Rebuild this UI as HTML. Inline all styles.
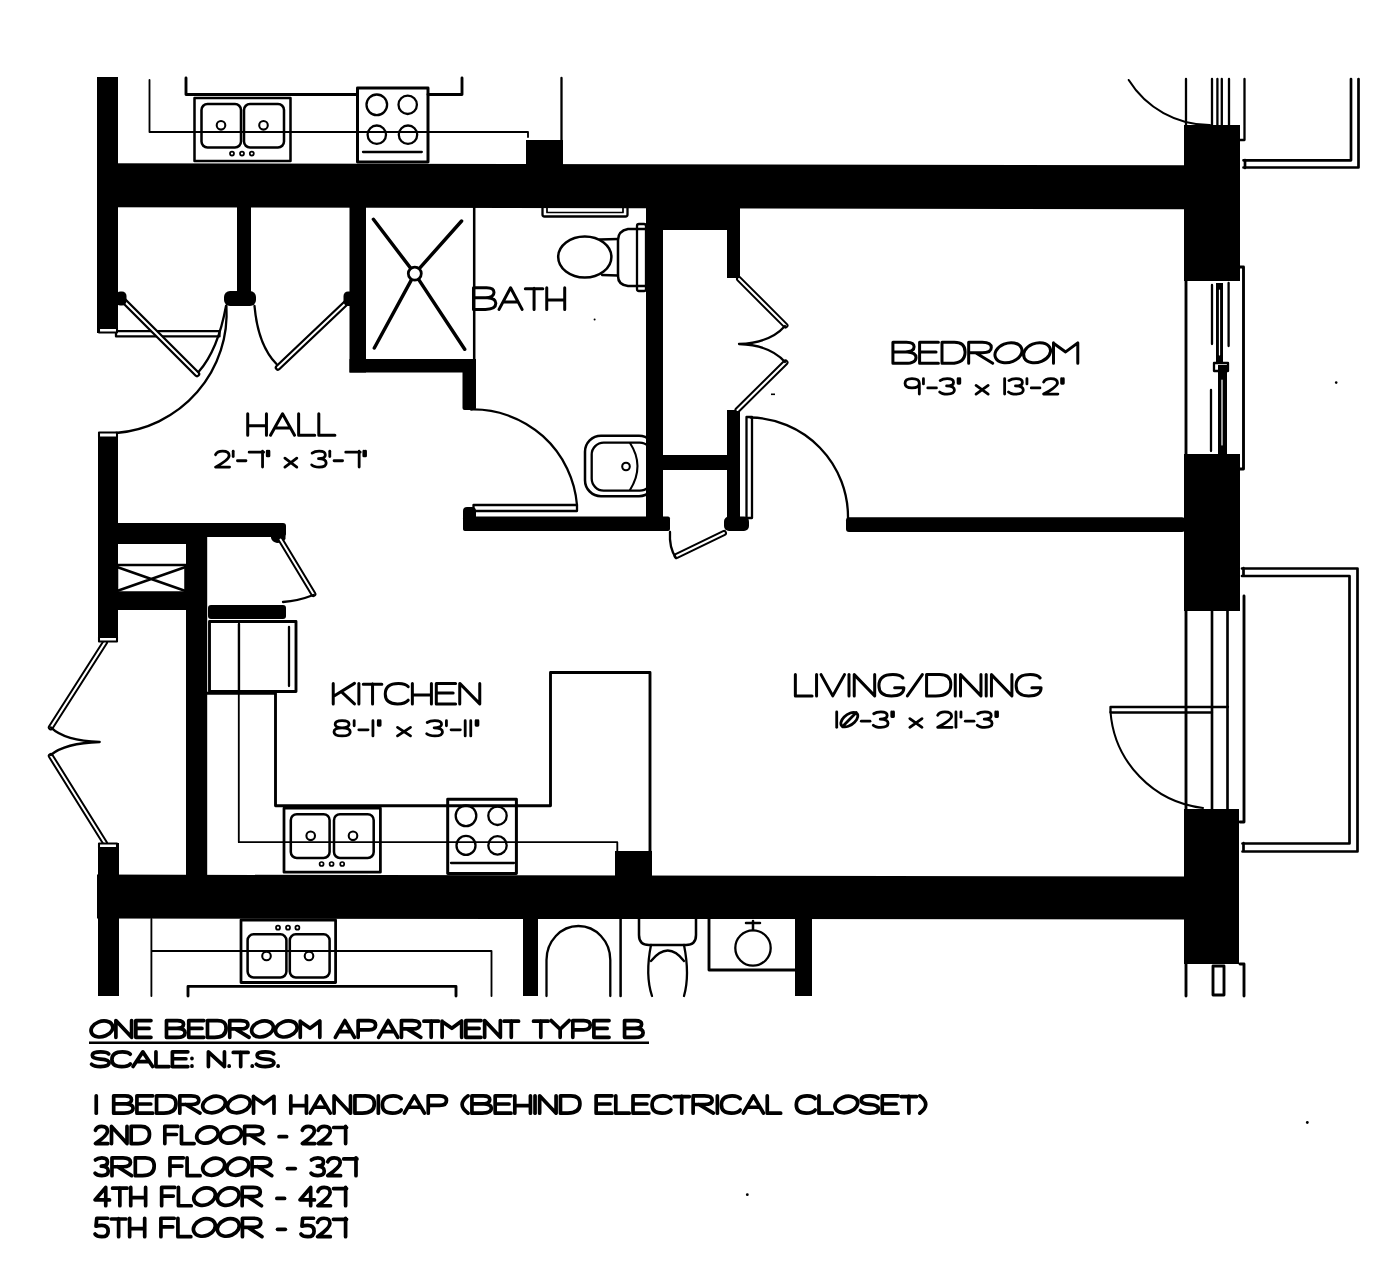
<!DOCTYPE html>
<html><head><meta charset="utf-8">
<style>
html,body{margin:0;padding:0;background:#fff;}
body{width:1386px;height:1272px;overflow:hidden;}
svg{display:block;}
text{font-family:"Liberation Sans",sans-serif;fill:#000;}
</style></head>
<body>
<svg width="1386" height="1272" viewBox="0 0 1386 1272">
<rect x="0" y="0" width="1386" height="1272" fill="#fff"/>
<!-- WALLS -->
<g fill="#000" stroke="none">
  <rect x="97" y="77" width="21" height="256"/>
  <polygon points="97,163.2 1185,165.2 1185,209.2 97,207.2"/>
  <rect x="237" y="205" width="14" height="90"/>
  <rect x="224" y="291" width="32" height="15" rx="6"/>
  <rect x="349.5" y="205" width="16.5" height="167.5"/>
  <rect x="349.5" y="359" width="126.5" height="13.5"/>
  <rect x="462.5" y="359" width="13.5" height="51" rx="2"/>
  <rect x="646" y="205" width="17" height="313"/>
  <rect x="463" y="516.5" width="207" height="14.5" rx="2"/>
  <rect x="463" y="507" width="13" height="24" rx="4"/>
  <rect x="646" y="205" width="94" height="25"/>
  <rect x="727" y="205" width="13" height="73"/>
  <rect x="663" y="455" width="64" height="15"/>
  <rect x="727" y="410" width="13" height="120"/>
  <rect x="724" y="516.5" width="25" height="14.5" rx="5"/>
  <rect x="846" y="517.2" width="339" height="14.8" rx="3"/>
  <rect x="1184" y="125" width="56" height="156"/>
  <rect x="1184" y="454" width="56" height="157"/>
  <rect x="1184" y="809" width="55" height="155"/>
  <polygon points="97,874.6 1185,876.5 1185,919.4 97,918.6"/>
  <rect x="98" y="432" width="20" height="209"/>
  <rect x="118" y="523" width="168" height="14" rx="3"/>
  <rect x="118" y="523" width="68" height="21"/>
  <rect x="116" y="592" width="70" height="18"/>
  <rect x="186" y="523" width="21.2" height="352"/>
  <rect x="208" y="605" width="78" height="14" rx="3"/>
  <path d="M271,536 H285.5 V539 Q283,543 277,543 Q272,542 271,538 Z"/>
  <rect x="98" y="843" width="21" height="153"/>
  <rect x="523" y="915" width="15" height="81"/>
  <rect x="795" y="915" width="17" height="81"/>
  <rect x="615" y="851" width="37" height="26"/>
  <rect x="526" y="140" width="37" height="25"/>
</g>

<!-- FIXTURES -->
<g fill="none" stroke="#000" stroke-width="2" stroke-linecap="round" stroke-linejoin="round">
  <!-- upper neighbor kitchen -->
  <path d="M186,78 V94.5 H357.5 M428,94.5 H462 V78" stroke-width="2.88"/>
  <path d="M149.5,80 V132 H528 V137" stroke-width="1.84"/>
  <path d="M561.5,78 V141" stroke-width="2.3"/>
  <rect x="194.5" y="98" width="96" height="63" stroke-width="2.53"/>
  <rect x="201.5" y="104" width="39.5" height="43.5" rx="6" stroke-width="2.53"/>
  <rect x="244" y="104" width="40" height="43.5" rx="6" stroke-width="2.53"/>
  <circle cx="221" cy="125.3" r="4.3" stroke-width="2.07"/>
  <circle cx="263.5" cy="125.3" r="4.3" stroke-width="2.07"/>
  <circle cx="232" cy="153.6" r="2" stroke-width="1.72"/>
  <circle cx="242" cy="153.6" r="2" stroke-width="1.72"/>
  <circle cx="251.8" cy="153.6" r="2" stroke-width="1.72"/>
  <rect x="357.5" y="88" width="70.5" height="74" stroke-width="2.99"/>
  <circle cx="376.8" cy="104.8" r="10.3" stroke-width="2.3"/>
  <circle cx="407.7" cy="104.8" r="9.2" stroke-width="2.3"/>
  <circle cx="376.8" cy="134.7" r="9.2" stroke-width="2.3"/>
  <circle cx="408" cy="134.7" r="9.2" stroke-width="2.3"/>
  <path d="M363,152 H421.8" stroke-width="2.3"/>

  <!-- top right neighbor door + window lines -->
  <path d="M1128.7,80 A95.4,95.4 0 0 0 1210,125" stroke-width="2.07"/>
  <path d="M1186,79 V125 M1212,79 V125 M1217.4,79 V125 M1221.8,79 V125 M1229,79 V125 M1244.5,79 V140 H1240" stroke-width="2.3"/>
  <path d="M1243.5,160.3 H1351 V79 M1243.5,167.5 H1358.5 V79 M1245,160 V168" stroke-width="2.7"/>

  <!-- right windows -->
  <path d="M1186,281 V454 M1243.5,267 V469 M1240,267 H1243.5 M1240,469 H1243.5" stroke-width="2.88"/>
  <path d="M1212,285 V344 M1228.6,283 V346 M1211,390 V451" stroke-width="2.3"/>
  <rect x="1216" y="283" width="7" height="80" fill="#000" stroke="none"/>
  <rect x="1218" y="365" width="9" height="89" fill="#000" stroke="none"/>
  <path d="M1219.5,290 V355 M1222,380 V445" stroke="#fff" stroke-width="1.2"/>
  <path d="M1214,363 H1228 V371 H1214 Z" stroke-width="2.3"/>

  <!-- balcony rail 2 -->
  <path d="M1242,568.5 H1357.5 V851.5 H1242.5 M1242,576 H1349.5 V843.5 H1242.5 M1243.5,568 V576 M1243.5,843 V851.5" stroke-width="2.7"/>
  <path d="M1186,611 V809 M1244,596 V822 M1240,822 H1244" stroke-width="2.88"/>
  <path d="M1212,611 V809 M1227.5,611 V809" stroke-width="2.64"/>
  <path d="M1110.5,707 H1228 M1110.5,712.5 H1212 M1110.5,707 V712.5" stroke-width="2.3"/>
  <path d="M1110.5,712 A105,105 0 0 0 1203,808" stroke-width="2.07"/>
  <path d="M1186,964 V996 M1244,964 V996 M1240,964 H1244" stroke-width="2.88"/>
  <rect x="1213" y="966" width="11" height="29" stroke-width="2.88"/>

  <!-- shower -->
  <path d="M474.2,207 V359" stroke-width="2.53"/>
  <path d="M373.4,219.3 L414.8,273.6 L464.7,349.3 M461.6,221 L414.8,273.6 L374.3,348" stroke-width="3.45"/>
  <circle cx="414.8" cy="273.6" r="6.5" fill="#fff" stroke-width="2.76"/>

  <!-- hall entry door -->
  <rect x="116" y="331.2" width="103.5" height="5.2" fill="#fff" stroke-width="2.3"/>
  <path d="M116,433 A120,120 0 0 0 226.4,306" stroke-width="2.3"/>
  <rect x="99" y="328" width="18" height="4.5" fill="#fff" stroke-width="2.07"/>
  <rect x="99" y="432.5" width="18" height="5" fill="#fff" stroke-width="2.07"/>
  <!-- closet doors -->
  <path d="M122,299 L197,374" stroke-width="6.5"/>
  <path d="M122,299 L197,374" stroke="#fff" stroke-width="2"/>
  <rect x="116" y="291.5" width="10.5" height="14" rx="4.5" fill="#000" stroke="none"/>
  <path d="M198.5,372 Q218,350 226,306" stroke-width="2.3"/>
  <path d="M346,303 L278,367.5" stroke-width="6.5"/>
  <path d="M346,303 L278,367.5" stroke="#fff" stroke-width="2"/>
  <rect x="343.5" y="291.5" width="10.5" height="14.5" rx="4.5" fill="#000" stroke="none"/>
  <path d="M276.5,364 Q258,345 254.5,306" stroke-width="2.3"/>

  <!-- bath fixtures -->
  <rect x="542.5" y="206" width="85" height="10.5" rx="2" stroke-width="2.3"/>
  <path d="M547,206 V212.5 H623 V206" stroke-width="1.72"/>
  <path d="M646,229 H628 Q618,231 618,240 V276 Q618,285 628,286 H646" stroke-width="2.53"/>
  <rect x="637" y="224" width="9" height="67" rx="2" stroke-width="2.3"/>
  <path d="M618,239 L600,239.5 M618,275.5 L602,275" stroke-width="2.3"/>
  <ellipse cx="584.8" cy="256.9" rx="26.6" ry="20.5" stroke-width="2.53"/>
  <rect x="585" y="435.7" width="70" height="60.5" rx="16" stroke-width="2.53"/>
  <rect x="591.7" y="442.6" width="60" height="48" rx="12" stroke-width="2.3"/>
  <rect x="646" y="430" width="10" height="70" fill="#000" stroke="none"/>
  <path d="M630,443 Q645,466 630,490" stroke-width="2.07"/>
  <circle cx="626" cy="466.5" r="3.8" stroke-width="2.07"/>
  <!-- bath door -->
  <rect x="473.5" y="505" width="103.5" height="6" stroke-width="2.3"/>
  <path d="M471,409.5 A104,104 0 0 1 577,505" stroke-width="2.3"/>

  <!-- bedroom closet bifold -->
  <path d="M739,279 L785.5,325.5 M785.5,362.5 L737.5,410" stroke-width="6"/>
  <path d="M739,279 L785.5,325.5 M785.5,362.5 L737.5,410" stroke="#fff" stroke-width="2"/>
  <path d="M785,326 Q770,343 739,344 Q770,345 785,362" stroke-width="2.3"/>
  <!-- bedroom door -->
  <rect x="746.5" y="417" width="5.5" height="101" stroke-width="2.3"/>
  <path d="M750.5,417.5 A99.5,99.5 0 0 1 848,518" stroke-width="2.3"/>
  <!-- closet bottom door -->
  <path d="M724,533 L676.5,556" stroke-width="6"/>
  <path d="M724,533 L676.5,556" stroke="#fff" stroke-width="2"/>
  <path d="M670,532 Q669,548 676,558" stroke-width="2.3"/>

  <!-- elec closet X -->
  <rect x="117" y="565" width="68.5" height="27.5" stroke-width="2.53"/>
  <path d="M117,567 L185.5,591 M185.5,567 L117,591" stroke-width="2.53"/>
  <!-- pantry door -->
  <path d="M280.5,539.5 L313.4,594" stroke-width="6"/>
  <path d="M280.5,539.5 L313.4,594" stroke="#fff" stroke-width="2"/>
  <path d="M313.4,595 Q298,601 283,602" stroke-width="2.3"/>
  <!-- fridge -->
  <rect x="209.5" y="621.5" width="86.5" height="70" stroke-width="2.88"/>
  <path d="M239,624 V691 M289,627 V686" stroke-width="2.3"/>
  <path d="M207,693.3 H275.5 V805.8 H550.5 V672.5 H650 V852.6" stroke-width="2.88"/>
  <path d="M238.8,624 V842.2 H617.3 V854" stroke-width="1.84"/>
  <!-- kitchen sink -->
  <rect x="284" y="808.2" width="96.4" height="64" stroke-width="2.76"/>
  <rect x="290.8" y="814.2" width="38.8" height="43.8" rx="6" stroke-width="2.53"/>
  <rect x="334" y="814.2" width="39.7" height="43.8" rx="6" stroke-width="2.53"/>
  <circle cx="310.7" cy="835.8" r="4.3" stroke-width="2.07"/>
  <circle cx="353" cy="835.8" r="4.3" stroke-width="2.07"/>
  <circle cx="321.6" cy="864" r="2" stroke-width="1.72"/>
  <circle cx="331.6" cy="864" r="2" stroke-width="1.72"/>
  <circle cx="342.2" cy="864" r="2" stroke-width="1.72"/>
  <!-- kitchen stove -->
  <rect x="447.7" y="799.3" width="68.7" height="74.3" stroke-width="2.99"/>
  <circle cx="466" cy="815.8" r="10.3" stroke-width="2.3"/>
  <circle cx="497.5" cy="815.8" r="9.2" stroke-width="2.3"/>
  <circle cx="466" cy="845.4" r="9.5" stroke-width="2.3"/>
  <circle cx="497.5" cy="845.4" r="9.2" stroke-width="2.3"/>
  <path d="M451,863 H514" stroke-width="2.3"/>
  <path d="M650,851 V875" stroke-width="2.3"/>

  <!-- entry bifold -->
  <path d="M105,642.4 L50.8,727.4 M50.8,756 L105,843" stroke-width="6"/>
  <path d="M105,642.4 L50.8,727.4 M50.8,756 L105,843" stroke="#fff" stroke-width="2"/>
  <path d="M50.8,727.4 Q65,741 99.7,742 Q65,743 50.8,755" stroke-width="2.3"/>
  <rect x="99" y="637" width="18" height="4.5" fill="#fff" stroke-width="2.07"/>
  <rect x="99" y="843.5" width="18" height="4.5" fill="#fff" stroke-width="2.07"/>

  <!-- lower neighbor -->
  <rect x="241" y="920" width="94.6" height="62.5" stroke-width="2.76"/>
  <rect x="247.6" y="934.3" width="38.8" height="43.2" rx="6" stroke-width="2.53"/>
  <rect x="289.8" y="934.3" width="39.8" height="43.2" rx="6" stroke-width="2.53"/>
  <circle cx="266.5" cy="956" r="4.3" stroke-width="2.07"/>
  <circle cx="309" cy="956" r="4.3" stroke-width="2.07"/>
  <circle cx="278" cy="927.7" r="2" stroke-width="1.72"/>
  <circle cx="288" cy="927.7" r="2" stroke-width="1.72"/>
  <circle cx="297.4" cy="927.7" r="2" stroke-width="1.72"/>
  <path d="M151.4,919 V996 M151.4,951 H491.5 V996" stroke-width="1.84"/>
  <path d="M188,996 V986.4 H456 V996" stroke-width="2.88"/>
  <path d="M546.5,996 V960 A31.9,34 0 0 1 610.3,960 V996" stroke-width="2.3"/>
  <path d="M620.6,919 V996" stroke-width="2.53"/>
  <path d="M639,919 V935 Q639,945 649,945 H686 Q696,945 696,935 V919" stroke-width="2.53"/>
  <path d="M651,945 Q645,975 652,996 M684,945 Q690,975 684,996 M651,961 Q668,940 684,961" stroke-width="2.3"/>
  <path d="M709,919 V970 H794.8" stroke-width="2.88"/>
  <circle cx="753" cy="948" r="17.7" stroke-width="2.3"/>
  <path d="M753,930 V921 M746,923 H760" stroke-width="2.53"/>
</g>

<g fill="#000">
  <circle cx="594.6" cy="319.5" r="1"/>
  <rect x="771" y="393.5" width="4" height="1.6"/>
  <circle cx="1307.3" cy="1122.5" r="1.4"/>
  <circle cx="747.3" cy="1194.7" r="1.4"/>
  <circle cx="1336.2" cy="382.6" r="1.3"/>
</g>
<!-- TEXT -->
<g fill="none" stroke="#000" stroke-linecap="round" stroke-linejoin="round" style="vector-effect:non-scaling-stroke">
<g role="img" aria-label="BATH" transform="matrix(2.3035,0,0,2.1600,472.80,287.80)" stroke-width="3.0"><title>BATH</title><path vector-effect="non-scaling-stroke" transform="translate(0.00,0)" d="M0.3,0 V10 M0.3,0 H6 Q9.2,0 9.2,2.2 Q9.2,4.6 5.5,4.6 H0.3 M5.5,4.6 H6.3 Q10,4.8 10,7.2 Q10,10 5.5,10 H0.3"/><path vector-effect="non-scaling-stroke" transform="translate(11.40,0)" d="M0,10 L5,0 L10,10 M2,6.6 H8"/><path vector-effect="non-scaling-stroke" transform="translate(22.80,0)" d="M0,0.4 H7.6 M3.8,0.2 V10"/><path vector-effect="non-scaling-stroke" transform="translate(31.80,0)" d="M0.3,0 V10 M8.1,0 V10 M0.3,5.6 H8.1"/></g>
<g role="img" aria-label="HALL" transform="matrix(2.4016,0,0,2.1500,247.00,413.80)" stroke-width="3.0"><title>HALL</title><path vector-effect="non-scaling-stroke" transform="translate(0.00,0)" d="M0.3,0 V10 M8.1,0 V10 M0.3,5.6 H8.1"/><path vector-effect="non-scaling-stroke" transform="translate(9.80,0)" d="M0,10 L5,0 L10,10 M2,6.6 H8"/><path vector-effect="non-scaling-stroke" transform="translate(21.20,0)" d="M0.3,0 V10 H7.0"/><path vector-effect="non-scaling-stroke" transform="translate(29.60,0)" d="M0.3,0 V10 H7.0"/></g>
<g role="img" aria-label="2'-7&quot; x 3'-7&quot;" transform="matrix(2.1278,0,0,1.5900,215.10,451.20)" stroke-width="2.8"><title>2'-7&quot; x 3'-7&quot;</title><path vector-effect="non-scaling-stroke" transform="translate(0.00,0)" d="M0.2,2.2 Q1,0 3.5,0 Q6.6,0 6.6,2.8 Q6.6,5.2 0.2,10 H6.8"/><path vector-effect="non-scaling-stroke" transform="translate(8.00,0)" d="M0.5,0 V3.4"/><path vector-effect="non-scaling-stroke" transform="translate(10.20,0)" d="M0.3,6.0 H4.3"/><path vector-effect="non-scaling-stroke" transform="translate(16.00,0)" d="M0,0.6 H6.8 M6.3,0 V10"/><path vector-effect="non-scaling-stroke" transform="translate(24.00,0)" d="M0.5,0 V3.0 M1.3,0 V3.0"/><path vector-effect="non-scaling-stroke" transform="translate(32.80,0)" d="M0,4.4 L5.6,10 M5.6,4.4 L0,10"/><path vector-effect="non-scaling-stroke" transform="translate(45.40,0)" d="M0.2,1.2 Q1.4,0 3.5,0 Q6.4,0 6.4,2.4 Q6.4,4.7 3.2,4.7 Q6.8,4.7 6.8,7.4 Q6.8,10 3.5,10 Q1,10 0,8.6"/><path vector-effect="non-scaling-stroke" transform="translate(53.40,0)" d="M0.5,0 V3.4"/><path vector-effect="non-scaling-stroke" transform="translate(55.60,0)" d="M0.3,6.0 H4.3"/><path vector-effect="non-scaling-stroke" transform="translate(61.40,0)" d="M0,0.6 H6.8 M6.3,0 V10"/><path vector-effect="non-scaling-stroke" transform="translate(69.40,0)" d="M0.5,0 V3.0 M1.3,0 V3.0"/></g>
<g role="img" aria-label="BEDROOM" transform="matrix(2.3824,0,0,2.1100,892.20,342.20)" stroke-width="3.0"><title>BEDROOM</title><path vector-effect="non-scaling-stroke" transform="translate(0.00,0)" d="M0.3,0 V10 M0.3,0 H6 Q9.2,0 9.2,2.2 Q9.2,4.6 5.5,4.6 H0.3 M5.5,4.6 H6.3 Q10,4.8 10,7.2 Q10,10 5.5,10 H0.3"/><path vector-effect="non-scaling-stroke" transform="translate(11.20,0)" d="M8.2,0 H0.3 V10 H8.2 M0.3,4.7 H7.2"/><path vector-effect="non-scaling-stroke" transform="translate(20.60,0)" d="M0.3,0 V10 H4 Q10,10 10,4.6 Q10,0 5.5,0 H0.3"/><path vector-effect="non-scaling-stroke" transform="translate(31.80,0)" d="M0.3,10 V0 H6 Q9.8,0 9.8,2.5 Q9.8,5 6,5 H0.3 M3.2,5 L10.4,10"/><path vector-effect="non-scaling-stroke" transform="translate(43.40,0)" d="M10.75,2.51 A5.9,4.5 -25 0 1 0.05,7.49 A5.9,4.5 -25 0 1 10.75,2.51Z"/><path vector-effect="non-scaling-stroke" transform="translate(55.40,0)" d="M10.75,2.51 A5.9,4.5 -25 0 1 0.05,7.49 A5.9,4.5 -25 0 1 10.75,2.51Z"/><path vector-effect="non-scaling-stroke" transform="translate(67.40,0)" d="M0.3,0.3 V10 M0.3,0.5 L5.4,4.6 L10.5,0.3 V10"/></g>
<g role="img" aria-label="9'-3&quot; x 13'-2&quot;" transform="matrix(2.1653,0,0,1.5400,904.60,378.70)" stroke-width="2.8"><title>9'-3&quot; x 13'-2&quot;</title><path vector-effect="non-scaling-stroke" transform="translate(0.00,0)" d="M6.8,3 Q6.8,6 3.4,6 Q0.2,6 0.2,3 Q0.2,0 3.4,0 Q6.8,0 6.8,3 V10"/><path vector-effect="non-scaling-stroke" transform="translate(8.20,0)" d="M0.5,0 V3.4"/><path vector-effect="non-scaling-stroke" transform="translate(10.40,0)" d="M0.3,6.0 H4.3"/><path vector-effect="non-scaling-stroke" transform="translate(16.20,0)" d="M0.2,1.2 Q1.4,0 3.5,0 Q6.4,0 6.4,2.4 Q6.4,4.7 3.2,4.7 Q6.8,4.7 6.8,7.4 Q6.8,10 3.5,10 Q1,10 0,8.6"/><path vector-effect="non-scaling-stroke" transform="translate(24.20,0)" d="M0.5,0 V3.0 M1.3,0 V3.0"/><path vector-effect="non-scaling-stroke" transform="translate(33.00,0)" d="M0,4.4 L5.6,10 M5.6,4.4 L0,10"/><path vector-effect="non-scaling-stroke" transform="translate(45.60,0)" d="M0.6,0 V10"/><path vector-effect="non-scaling-stroke" transform="translate(48.00,0)" d="M0.2,1.2 Q1.4,0 3.5,0 Q6.4,0 6.4,2.4 Q6.4,4.7 3.2,4.7 Q6.8,4.7 6.8,7.4 Q6.8,10 3.5,10 Q1,10 0,8.6"/><path vector-effect="non-scaling-stroke" transform="translate(56.00,0)" d="M0.5,0 V3.4"/><path vector-effect="non-scaling-stroke" transform="translate(58.20,0)" d="M0.3,6.0 H4.3"/><path vector-effect="non-scaling-stroke" transform="translate(64.00,0)" d="M0.2,2.2 Q1,0 3.5,0 Q6.6,0 6.6,2.8 Q6.6,5.2 0.2,10 H6.8"/><path vector-effect="non-scaling-stroke" transform="translate(72.00,0)" d="M0.5,0 V3.0 M1.3,0 V3.0"/></g>
<g role="img" aria-label="KITCHEN" transform="matrix(2.4422,0,0,2.0500,332.50,683.40)" stroke-width="3.0"><title>KITCHEN</title><path vector-effect="non-scaling-stroke" transform="translate(0.00,0)" d="M0.3,0 V10 M9,0 L0.3,6.4 M3.6,4 L9,10"/><path vector-effect="non-scaling-stroke" transform="translate(10.40,0)" d="M0.4,0 V10"/><path vector-effect="non-scaling-stroke" transform="translate(12.60,0)" d="M0,0.4 H7.6 M3.8,0.2 V10"/><path vector-effect="non-scaling-stroke" transform="translate(21.60,0)" d="M9.4,1.6 Q8.4,0 5.4,0 Q0,0 0,5.2 Q0,10 5,10 Q8.2,10 9.4,8.2"/><path vector-effect="non-scaling-stroke" transform="translate(32.40,0)" d="M0.3,0 V10 M8.1,0 V10 M0.3,5.6 H8.1"/><path vector-effect="non-scaling-stroke" transform="translate(42.20,0)" d="M8.2,0 H0.3 V10 H8.2 M0.3,4.7 H7.2"/><path vector-effect="non-scaling-stroke" transform="translate(51.80,0)" d="M0.3,10 V0 L8.5,10 V0"/></g>
<g role="img" aria-label="8'-1&quot; x 3'-11&quot;" transform="matrix(2.3179,0,0,1.5200,334.00,720.70)" stroke-width="2.8"><title>8'-1&quot; x 3'-11&quot;</title><path vector-effect="non-scaling-stroke" transform="translate(0.00,0)" d="M3.5,4.7 Q0.5,4.7 0.5,2.4 Q0.5,0 3.5,0 Q6.5,0 6.5,2.4 Q6.5,4.7 3.5,4.7 Q0,4.7 0,7.4 Q0,10 3.5,10 Q7,10 7,7.4 Q7,4.7 3.5,4.7"/><path vector-effect="non-scaling-stroke" transform="translate(8.20,0)" d="M0.5,0 V3.4"/><path vector-effect="non-scaling-stroke" transform="translate(10.40,0)" d="M0.3,6.0 H4.3"/><path vector-effect="non-scaling-stroke" transform="translate(16.20,0)" d="M0.6,0 V10"/><path vector-effect="non-scaling-stroke" transform="translate(18.60,0)" d="M0.5,0 V3.0 M1.3,0 V3.0"/><path vector-effect="non-scaling-stroke" transform="translate(27.40,0)" d="M0,4.4 L5.6,10 M5.6,4.4 L0,10"/><path vector-effect="non-scaling-stroke" transform="translate(40.00,0)" d="M0.2,1.2 Q1.4,0 3.5,0 Q6.4,0 6.4,2.4 Q6.4,4.7 3.2,4.7 Q6.8,4.7 6.8,7.4 Q6.8,10 3.5,10 Q1,10 0,8.6"/><path vector-effect="non-scaling-stroke" transform="translate(48.00,0)" d="M0.5,0 V3.4"/><path vector-effect="non-scaling-stroke" transform="translate(50.20,0)" d="M0.3,6.0 H4.3"/><path vector-effect="non-scaling-stroke" transform="translate(56.00,0)" d="M0.6,0 V10"/><path vector-effect="non-scaling-stroke" transform="translate(58.40,0)" d="M0.6,0 V10"/><path vector-effect="non-scaling-stroke" transform="translate(60.80,0)" d="M0.5,0 V3.0 M1.3,0 V3.0"/></g>
<g role="img" aria-label="LIVING/DINING" transform="matrix(2.4949,0,0,2.1300,794.60,674.60)" stroke-width="3.0"><title>LIVING/DINING</title><path vector-effect="non-scaling-stroke" transform="translate(0.00,0)" d="M0.3,0 V10 H7.0"/><path vector-effect="non-scaling-stroke" transform="translate(8.40,0)" d="M0.4,0 V10"/><path vector-effect="non-scaling-stroke" transform="translate(10.60,0)" d="M0,0 L4.7,10 L9.4,0"/><path vector-effect="non-scaling-stroke" transform="translate(21.40,0)" d="M0.4,0 V10"/><path vector-effect="non-scaling-stroke" transform="translate(23.60,0)" d="M0.3,10 V0 L8.5,10 V0"/><path vector-effect="non-scaling-stroke" transform="translate(33.80,0)" d="M9.6,1.6 Q8.6,0 5.6,0 Q0,0 0,5.2 Q0,10 5,10 Q10,10 10,6.2 H6.3"/><path vector-effect="non-scaling-stroke" transform="translate(45.20,0)" d="M0,10 L6,0"/><path vector-effect="non-scaling-stroke" transform="translate(52.60,0)" d="M0.3,0 V10 H4 Q10,10 10,4.6 Q10,0 5.5,0 H0.3"/><path vector-effect="non-scaling-stroke" transform="translate(64.00,0)" d="M0.4,0 V10"/><path vector-effect="non-scaling-stroke" transform="translate(66.20,0)" d="M0.3,10 V0 L8.5,10 V0"/><path vector-effect="non-scaling-stroke" transform="translate(76.40,0)" d="M0.4,0 V10"/><path vector-effect="non-scaling-stroke" transform="translate(78.60,0)" d="M0.3,10 V0 L8.5,10 V0"/><path vector-effect="non-scaling-stroke" transform="translate(88.80,0)" d="M9.6,1.6 Q8.6,0 5.6,0 Q0,0 0,5.2 Q0,10 5,10 Q10,10 10,6.2 H6.3"/></g>
<g role="img" aria-label="10-3&quot; x 21'-3&quot;" transform="matrix(2.1760,0,0,1.5400,835.40,711.90)" stroke-width="2.8"><title>10-3&quot; x 21'-3&quot;</title><path vector-effect="non-scaling-stroke" transform="translate(0.00,0)" d="M0.6,0 V10"/><path vector-effect="non-scaling-stroke" transform="translate(2.40,0)" d="M7.10,0.58 A5.4,3.0 -55 0 1 0.90,9.42 A5.4,3.0 -55 0 1 7.10,0.58Z M0.8,9.6 L7.2,0.4"/><path vector-effect="non-scaling-stroke" transform="translate(11.60,0)" d="M0.3,6.0 H4.3"/><path vector-effect="non-scaling-stroke" transform="translate(17.40,0)" d="M0.2,1.2 Q1.4,0 3.5,0 Q6.4,0 6.4,2.4 Q6.4,4.7 3.2,4.7 Q6.8,4.7 6.8,7.4 Q6.8,10 3.5,10 Q1,10 0,8.6"/><path vector-effect="non-scaling-stroke" transform="translate(25.40,0)" d="M0.5,0 V3.0 M1.3,0 V3.0"/><path vector-effect="non-scaling-stroke" transform="translate(34.20,0)" d="M0,4.4 L5.6,10 M5.6,4.4 L0,10"/><path vector-effect="non-scaling-stroke" transform="translate(46.80,0)" d="M0.2,2.2 Q1,0 3.5,0 Q6.6,0 6.6,2.8 Q6.6,5.2 0.2,10 H6.8"/><path vector-effect="non-scaling-stroke" transform="translate(54.80,0)" d="M0.6,0 V10"/><path vector-effect="non-scaling-stroke" transform="translate(57.20,0)" d="M0.5,0 V3.4"/><path vector-effect="non-scaling-stroke" transform="translate(59.40,0)" d="M0.3,6.0 H4.3"/><path vector-effect="non-scaling-stroke" transform="translate(65.20,0)" d="M0.2,1.2 Q1.4,0 3.5,0 Q6.4,0 6.4,2.4 Q6.4,4.7 3.2,4.7 Q6.8,4.7 6.8,7.4 Q6.8,10 3.5,10 Q1,10 0,8.6"/><path vector-effect="non-scaling-stroke" transform="translate(73.20,0)" d="M0.5,0 V3.0 M1.3,0 V3.0"/></g>
<g role="img" aria-label="ONE BEDROOM APARTMENT TYPE B" transform="matrix(1.9166,0,0,1.6800,91.55,1020.55)" stroke-width="3.7"><title>ONE BEDROOM APARTMENT TYPE B</title><path vector-effect="non-scaling-stroke" transform="translate(0.00,0)" d="M10.75,2.51 A5.9,4.5 -25 0 1 0.05,7.49 A5.9,4.5 -25 0 1 10.75,2.51Z"/><path vector-effect="non-scaling-stroke" transform="translate(12.40,0)" d="M0.3,10 V0 L8.5,10 V0"/><path vector-effect="non-scaling-stroke" transform="translate(22.80,0)" d="M8.2,0 H0.3 V10 H8.2 M0.3,4.7 H7.2"/><path vector-effect="non-scaling-stroke" transform="translate(38.80,0)" d="M0.3,0 V10 M0.3,0 H6 Q9.2,0 9.2,2.2 Q9.2,4.6 5.5,4.6 H0.3 M5.5,4.6 H6.3 Q10,4.8 10,7.2 Q10,10 5.5,10 H0.3"/><path vector-effect="non-scaling-stroke" transform="translate(50.40,0)" d="M8.2,0 H0.3 V10 H8.2 M0.3,4.7 H7.2"/><path vector-effect="non-scaling-stroke" transform="translate(60.20,0)" d="M0.3,0 V10 H4 Q10,10 10,4.6 Q10,0 5.5,0 H0.3"/><path vector-effect="non-scaling-stroke" transform="translate(71.80,0)" d="M0.3,10 V0 H6 Q9.8,0 9.8,2.5 Q9.8,5 6,5 H0.3 M3.2,5 L10.4,10"/><path vector-effect="non-scaling-stroke" transform="translate(83.80,0)" d="M10.75,2.51 A5.9,4.5 -25 0 1 0.05,7.49 A5.9,4.5 -25 0 1 10.75,2.51Z"/><path vector-effect="non-scaling-stroke" transform="translate(96.20,0)" d="M10.75,2.51 A5.9,4.5 -25 0 1 0.05,7.49 A5.9,4.5 -25 0 1 10.75,2.51Z"/><path vector-effect="non-scaling-stroke" transform="translate(108.60,0)" d="M0.3,0.3 V10 M0.3,0.5 L5.4,4.6 L10.5,0.3 V10"/><path vector-effect="non-scaling-stroke" transform="translate(127.20,0)" d="M0,10 L5,0 L10,10 M2,6.6 H8"/><path vector-effect="non-scaling-stroke" transform="translate(138.80,0)" d="M0.3,10 V0 H6 Q9.4,0 9.4,2.7 Q9.4,5.5 6,5.5 H0.3"/><path vector-effect="non-scaling-stroke" transform="translate(149.80,0)" d="M0,10 L5,0 L10,10 M2,6.6 H8"/><path vector-effect="non-scaling-stroke" transform="translate(161.40,0)" d="M0.3,10 V0 H6 Q9.8,0 9.8,2.5 Q9.8,5 6,5 H0.3 M3.2,5 L10.4,10"/><path vector-effect="non-scaling-stroke" transform="translate(173.40,0)" d="M0,0.4 H7.6 M3.8,0.2 V10"/><path vector-effect="non-scaling-stroke" transform="translate(182.60,0)" d="M0.3,0.3 V10 M0.3,0.5 L5.4,4.6 L10.5,0.3 V10"/><path vector-effect="non-scaling-stroke" transform="translate(195.00,0)" d="M8.2,0 H0.3 V10 H8.2 M0.3,4.7 H7.2"/><path vector-effect="non-scaling-stroke" transform="translate(204.80,0)" d="M0.3,10 V0 L8.5,10 V0"/><path vector-effect="non-scaling-stroke" transform="translate(215.20,0)" d="M0,0.4 H7.6 M3.8,0.2 V10"/><path vector-effect="non-scaling-stroke" transform="translate(230.60,0)" d="M0,0.4 H7.6 M3.8,0.2 V10"/><path vector-effect="non-scaling-stroke" transform="translate(239.80,0)" d="M0,0 L4.7,5.2 L9.4,0 M4.7,5.2 V10"/><path vector-effect="non-scaling-stroke" transform="translate(250.80,0)" d="M0.3,10 V0 H6 Q9.4,0 9.4,2.7 Q9.4,5.5 6,5.5 H0.3"/><path vector-effect="non-scaling-stroke" transform="translate(261.80,0)" d="M8.2,0 H0.3 V10 H8.2 M0.3,4.7 H7.2"/><path vector-effect="non-scaling-stroke" transform="translate(277.80,0)" d="M0.3,0 V10 M0.3,0 H6 Q9.2,0 9.2,2.2 Q9.2,4.6 5.5,4.6 H0.3 M5.5,4.6 H6.3 Q10,4.8 10,7.2 Q10,10 5.5,10 H0.3"/></g>
<g role="img" aria-label="SCALE: N.T.S." transform="matrix(1.9573,0,0,1.4700,91.55,1051.85)" stroke-width="3.7"><title>SCALE: N.T.S.</title><path vector-effect="non-scaling-stroke" transform="translate(0.00,0)" d="M8.8,1.4 Q7.8,0 4.6,0 Q0.4,0 0.4,2.5 Q0.4,4.6 4.6,4.9 Q9,5.2 9,7.5 Q9,10 4.6,10 Q1.2,10 0,8.4"/><path vector-effect="non-scaling-stroke" transform="translate(10.40,0)" d="M9.4,1.6 Q8.4,0 5.4,0 Q0,0 0,5.2 Q0,10 5,10 Q8.2,10 9.4,8.2"/><path vector-effect="non-scaling-stroke" transform="translate(21.20,0)" d="M0,10 L5,0 L10,10 M2,6.6 H8"/><path vector-effect="non-scaling-stroke" transform="translate(32.60,0)" d="M0.3,0 V10 H7.0"/><path vector-effect="non-scaling-stroke" transform="translate(41.00,0)" d="M8.2,0 H0.3 V10 H8.2 M0.3,4.7 H7.2"/><path vector-effect="non-scaling-stroke" transform="translate(50.60,0)" d="M0.7,4.4 V4.6 M0.7,9.6 V9.8"/><path vector-effect="non-scaling-stroke" transform="translate(59.40,0)" d="M0.3,10 V0 L8.5,10 V0"/><path vector-effect="non-scaling-stroke" transform="translate(69.60,0)" d="M0.7,9.6 V9.8"/><path vector-effect="non-scaling-stroke" transform="translate(72.40,0)" d="M0,0.4 H7.6 M3.8,0.2 V10"/><path vector-effect="non-scaling-stroke" transform="translate(81.40,0)" d="M0.7,9.6 V9.8"/><path vector-effect="non-scaling-stroke" transform="translate(84.20,0)" d="M8.8,1.4 Q7.8,0 4.6,0 Q0.4,0 0.4,2.5 Q0.4,4.6 4.6,4.9 Q9,5.2 9,7.5 Q9,10 4.6,10 Q1.2,10 0,8.4"/><path vector-effect="non-scaling-stroke" transform="translate(94.60,0)" d="M0.7,9.6 V9.8"/></g>
<g role="img" aria-label="1 BEDROOM HANDICAP (BEHIND ELECTRICAL CLOSET)" transform="matrix(2.0036,0,0,1.7300,95.05,1095.85)" stroke-width="3.7"><title>1 BEDROOM HANDICAP (BEHIND ELECTRICAL CLOSET)</title><path vector-effect="non-scaling-stroke" transform="translate(0.00,0)" d="M0.6,0 V10"/><path vector-effect="non-scaling-stroke" transform="translate(9.00,0)" d="M0.3,0 V10 M0.3,0 H6 Q9.2,0 9.2,2.2 Q9.2,4.6 5.5,4.6 H0.3 M5.5,4.6 H6.3 Q10,4.8 10,7.2 Q10,10 5.5,10 H0.3"/><path vector-effect="non-scaling-stroke" transform="translate(20.60,0)" d="M8.2,0 H0.3 V10 H8.2 M0.3,4.7 H7.2"/><path vector-effect="non-scaling-stroke" transform="translate(30.40,0)" d="M0.3,0 V10 H4 Q10,10 10,4.6 Q10,0 5.5,0 H0.3"/><path vector-effect="non-scaling-stroke" transform="translate(42.00,0)" d="M0.3,10 V0 H6 Q9.8,0 9.8,2.5 Q9.8,5 6,5 H0.3 M3.2,5 L10.4,10"/><path vector-effect="non-scaling-stroke" transform="translate(54.00,0)" d="M10.75,2.51 A5.9,4.5 -25 0 1 0.05,7.49 A5.9,4.5 -25 0 1 10.75,2.51Z"/><path vector-effect="non-scaling-stroke" transform="translate(66.40,0)" d="M10.75,2.51 A5.9,4.5 -25 0 1 0.05,7.49 A5.9,4.5 -25 0 1 10.75,2.51Z"/><path vector-effect="non-scaling-stroke" transform="translate(78.80,0)" d="M0.3,0.3 V10 M0.3,0.5 L5.4,4.6 L10.5,0.3 V10"/><path vector-effect="non-scaling-stroke" transform="translate(97.40,0)" d="M0.3,0 V10 M8.1,0 V10 M0.3,5.6 H8.1"/><path vector-effect="non-scaling-stroke" transform="translate(107.40,0)" d="M0,10 L5,0 L10,10 M2,6.6 H8"/><path vector-effect="non-scaling-stroke" transform="translate(119.00,0)" d="M0.3,10 V0 L8.5,10 V0"/><path vector-effect="non-scaling-stroke" transform="translate(129.40,0)" d="M0.3,0 V10 H4 Q10,10 10,4.6 Q10,0 5.5,0 H0.3"/><path vector-effect="non-scaling-stroke" transform="translate(141.00,0)" d="M0.4,0 V10"/><path vector-effect="non-scaling-stroke" transform="translate(143.40,0)" d="M9.4,1.6 Q8.4,0 5.4,0 Q0,0 0,5.2 Q0,10 5,10 Q8.2,10 9.4,8.2"/><path vector-effect="non-scaling-stroke" transform="translate(154.40,0)" d="M0,10 L5,0 L10,10 M2,6.6 H8"/><path vector-effect="non-scaling-stroke" transform="translate(166.00,0)" d="M0.3,10 V0 H6 Q9.4,0 9.4,2.7 Q9.4,5.5 6,5.5 H0.3"/><path vector-effect="non-scaling-stroke" transform="translate(183.20,0)" d="M3,0 Q0,2.5 0,5 Q0,7.5 3,10"/><path vector-effect="non-scaling-stroke" transform="translate(187.80,0)" d="M0.3,0 V10 M0.3,0 H6 Q9.2,0 9.2,2.2 Q9.2,4.6 5.5,4.6 H0.3 M5.5,4.6 H6.3 Q10,4.8 10,7.2 Q10,10 5.5,10 H0.3"/><path vector-effect="non-scaling-stroke" transform="translate(199.40,0)" d="M8.2,0 H0.3 V10 H8.2 M0.3,4.7 H7.2"/><path vector-effect="non-scaling-stroke" transform="translate(209.20,0)" d="M0.3,0 V10 M8.1,0 V10 M0.3,5.6 H8.1"/><path vector-effect="non-scaling-stroke" transform="translate(219.20,0)" d="M0.4,0 V10"/><path vector-effect="non-scaling-stroke" transform="translate(221.60,0)" d="M0.3,10 V0 L8.5,10 V0"/><path vector-effect="non-scaling-stroke" transform="translate(232.00,0)" d="M0.3,0 V10 H4 Q10,10 10,4.6 Q10,0 5.5,0 H0.3"/><path vector-effect="non-scaling-stroke" transform="translate(249.80,0)" d="M8.2,0 H0.3 V10 H8.2 M0.3,4.7 H7.2"/><path vector-effect="non-scaling-stroke" transform="translate(259.60,0)" d="M0.3,0 V10 H7.0"/><path vector-effect="non-scaling-stroke" transform="translate(268.20,0)" d="M8.2,0 H0.3 V10 H8.2 M0.3,4.7 H7.2"/><path vector-effect="non-scaling-stroke" transform="translate(278.00,0)" d="M9.4,1.6 Q8.4,0 5.4,0 Q0,0 0,5.2 Q0,10 5,10 Q8.2,10 9.4,8.2"/><path vector-effect="non-scaling-stroke" transform="translate(289.00,0)" d="M0,0.4 H7.6 M3.8,0.2 V10"/><path vector-effect="non-scaling-stroke" transform="translate(298.20,0)" d="M0.3,10 V0 H6 Q9.8,0 9.8,2.5 Q9.8,5 6,5 H0.3 M3.2,5 L10.4,10"/><path vector-effect="non-scaling-stroke" transform="translate(310.20,0)" d="M0.4,0 V10"/><path vector-effect="non-scaling-stroke" transform="translate(312.60,0)" d="M9.4,1.6 Q8.4,0 5.4,0 Q0,0 0,5.2 Q0,10 5,10 Q8.2,10 9.4,8.2"/><path vector-effect="non-scaling-stroke" transform="translate(323.60,0)" d="M0,10 L5,0 L10,10 M2,6.6 H8"/><path vector-effect="non-scaling-stroke" transform="translate(335.20,0)" d="M0.3,0 V10 H7.0"/><path vector-effect="non-scaling-stroke" transform="translate(350.00,0)" d="M9.4,1.6 Q8.4,0 5.4,0 Q0,0 0,5.2 Q0,10 5,10 Q8.2,10 9.4,8.2"/><path vector-effect="non-scaling-stroke" transform="translate(361.00,0)" d="M0.3,0 V10 H7.0"/><path vector-effect="non-scaling-stroke" transform="translate(369.60,0)" d="M10.75,2.51 A5.9,4.5 -25 0 1 0.05,7.49 A5.9,4.5 -25 0 1 10.75,2.51Z"/><path vector-effect="non-scaling-stroke" transform="translate(382.00,0)" d="M8.8,1.4 Q7.8,0 4.6,0 Q0.4,0 0.4,2.5 Q0.4,4.6 4.6,4.9 Q9,5.2 9,7.5 Q9,10 4.6,10 Q1.2,10 0,8.4"/><path vector-effect="non-scaling-stroke" transform="translate(392.60,0)" d="M8.2,0 H0.3 V10 H8.2 M0.3,4.7 H7.2"/><path vector-effect="non-scaling-stroke" transform="translate(402.40,0)" d="M0,0.4 H7.6 M3.8,0.2 V10"/><path vector-effect="non-scaling-stroke" transform="translate(411.60,0)" d="M0,0 Q3,2.5 3,5 Q3,7.5 0,10"/></g>
<g role="img" aria-label="2ND FLOOR - 227" transform="matrix(1.8910,0,0,1.7100,95.05,1126.45)" stroke-width="3.7"><title>2ND FLOOR - 227</title><path vector-effect="non-scaling-stroke" transform="translate(0.00,0)" d="M0.2,2.2 Q1,0 3.5,0 Q6.6,0 6.6,2.8 Q6.6,5.2 0.2,10 H6.8"/><path vector-effect="non-scaling-stroke" transform="translate(8.40,0)" d="M0.3,10 V0 L8.5,10 V0"/><path vector-effect="non-scaling-stroke" transform="translate(18.80,0)" d="M0.3,0 V10 H4 Q10,10 10,4.6 Q10,0 5.5,0 H0.3"/><path vector-effect="non-scaling-stroke" transform="translate(36.60,0)" d="M7.2,0 H0.3 V10 M0.3,4.7 H6.4"/><path vector-effect="non-scaling-stroke" transform="translate(45.40,0)" d="M0.3,0 V10 H7.0"/><path vector-effect="non-scaling-stroke" transform="translate(54.00,0)" d="M10.75,2.51 A5.9,4.5 -25 0 1 0.05,7.49 A5.9,4.5 -25 0 1 10.75,2.51Z"/><path vector-effect="non-scaling-stroke" transform="translate(66.40,0)" d="M10.75,2.51 A5.9,4.5 -25 0 1 0.05,7.49 A5.9,4.5 -25 0 1 10.75,2.51Z"/><path vector-effect="non-scaling-stroke" transform="translate(78.80,0)" d="M0.3,10 V0 H6 Q9.8,0 9.8,2.5 Q9.8,5 6,5 H0.3 M3.2,5 L10.4,10"/><path vector-effect="non-scaling-stroke" transform="translate(97.00,0)" d="M0.3,6.0 H4.3"/><path vector-effect="non-scaling-stroke" transform="translate(109.40,0)" d="M0.2,2.2 Q1,0 3.5,0 Q6.6,0 6.6,2.8 Q6.6,5.2 0.2,10 H6.8"/><path vector-effect="non-scaling-stroke" transform="translate(117.80,0)" d="M0.2,2.2 Q1,0 3.5,0 Q6.6,0 6.6,2.8 Q6.6,5.2 0.2,10 H6.8"/><path vector-effect="non-scaling-stroke" transform="translate(126.20,0)" d="M0,0.6 H6.8 M6.3,0 V10"/></g>
<g role="img" aria-label="3RD FLOOR - 327" transform="matrix(1.9458,0,0,1.7800,95.05,1157.85)" stroke-width="3.7"><title>3RD FLOOR - 327</title><path vector-effect="non-scaling-stroke" transform="translate(0.00,0)" d="M0.2,1.2 Q1.4,0 3.5,0 Q6.4,0 6.4,2.4 Q6.4,4.7 3.2,4.7 Q6.8,4.7 6.8,7.4 Q6.8,10 3.5,10 Q1,10 0,8.6"/><path vector-effect="non-scaling-stroke" transform="translate(8.40,0)" d="M0.3,10 V0 H6 Q9.8,0 9.8,2.5 Q9.8,5 6,5 H0.3 M3.2,5 L10.4,10"/><path vector-effect="non-scaling-stroke" transform="translate(20.40,0)" d="M0.3,0 V10 H4 Q10,10 10,4.6 Q10,0 5.5,0 H0.3"/><path vector-effect="non-scaling-stroke" transform="translate(38.20,0)" d="M7.2,0 H0.3 V10 M0.3,4.7 H6.4"/><path vector-effect="non-scaling-stroke" transform="translate(47.00,0)" d="M0.3,0 V10 H7.0"/><path vector-effect="non-scaling-stroke" transform="translate(55.60,0)" d="M10.75,2.51 A5.9,4.5 -25 0 1 0.05,7.49 A5.9,4.5 -25 0 1 10.75,2.51Z"/><path vector-effect="non-scaling-stroke" transform="translate(68.00,0)" d="M10.75,2.51 A5.9,4.5 -25 0 1 0.05,7.49 A5.9,4.5 -25 0 1 10.75,2.51Z"/><path vector-effect="non-scaling-stroke" transform="translate(80.40,0)" d="M0.3,10 V0 H6 Q9.8,0 9.8,2.5 Q9.8,5 6,5 H0.3 M3.2,5 L10.4,10"/><path vector-effect="non-scaling-stroke" transform="translate(98.60,0)" d="M0.3,6.0 H4.3"/><path vector-effect="non-scaling-stroke" transform="translate(111.00,0)" d="M0.2,1.2 Q1.4,0 3.5,0 Q6.4,0 6.4,2.4 Q6.4,4.7 3.2,4.7 Q6.8,4.7 6.8,7.4 Q6.8,10 3.5,10 Q1,10 0,8.6"/><path vector-effect="non-scaling-stroke" transform="translate(119.40,0)" d="M0.2,2.2 Q1,0 3.5,0 Q6.6,0 6.6,2.8 Q6.6,5.2 0.2,10 H6.8"/><path vector-effect="non-scaling-stroke" transform="translate(127.80,0)" d="M0,0.6 H6.8 M6.3,0 V10"/></g>
<g role="img" aria-label="4TH FLOOR - 427" transform="matrix(1.9082,0,0,1.8300,95.05,1187.45)" stroke-width="3.7"><title>4TH FLOOR - 427</title><path vector-effect="non-scaling-stroke" transform="translate(0.00,0)" d="M5.6,10 V0 L0,6.8 H7.6"/><path vector-effect="non-scaling-stroke" transform="translate(9.20,0)" d="M0,0.4 H7.6 M3.8,0.2 V10"/><path vector-effect="non-scaling-stroke" transform="translate(18.40,0)" d="M0.3,0 V10 M8.1,0 V10 M0.3,5.6 H8.1"/><path vector-effect="non-scaling-stroke" transform="translate(34.60,0)" d="M7.2,0 H0.3 V10 M0.3,4.7 H6.4"/><path vector-effect="non-scaling-stroke" transform="translate(43.40,0)" d="M0.3,0 V10 H7.0"/><path vector-effect="non-scaling-stroke" transform="translate(52.00,0)" d="M10.75,2.51 A5.9,4.5 -25 0 1 0.05,7.49 A5.9,4.5 -25 0 1 10.75,2.51Z"/><path vector-effect="non-scaling-stroke" transform="translate(64.40,0)" d="M10.75,2.51 A5.9,4.5 -25 0 1 0.05,7.49 A5.9,4.5 -25 0 1 10.75,2.51Z"/><path vector-effect="non-scaling-stroke" transform="translate(76.80,0)" d="M0.3,10 V0 H6 Q9.8,0 9.8,2.5 Q9.8,5 6,5 H0.3 M3.2,5 L10.4,10"/><path vector-effect="non-scaling-stroke" transform="translate(95.00,0)" d="M0.3,6.0 H4.3"/><path vector-effect="non-scaling-stroke" transform="translate(107.40,0)" d="M5.6,10 V0 L0,6.8 H7.6"/><path vector-effect="non-scaling-stroke" transform="translate(116.60,0)" d="M0.2,2.2 Q1,0 3.5,0 Q6.6,0 6.6,2.8 Q6.6,5.2 0.2,10 H6.8"/><path vector-effect="non-scaling-stroke" transform="translate(125.00,0)" d="M0,0.6 H6.8 M6.3,0 V10"/></g>
<g role="img" aria-label="5TH FLOOR - 527" transform="matrix(1.9316,0,0,1.8400,95.05,1218.25)" stroke-width="3.7"><title>5TH FLOOR - 527</title><path vector-effect="non-scaling-stroke" transform="translate(0.00,0)" d="M6.5,0 H0.9 L0.5,4.3 Q1.7,3.9 3.5,3.9 Q6.8,3.9 6.8,7 Q6.8,10 3.5,10 Q1,10 0,8.6"/><path vector-effect="non-scaling-stroke" transform="translate(8.40,0)" d="M0,0.4 H7.6 M3.8,0.2 V10"/><path vector-effect="non-scaling-stroke" transform="translate(17.60,0)" d="M0.3,0 V10 M8.1,0 V10 M0.3,5.6 H8.1"/><path vector-effect="non-scaling-stroke" transform="translate(33.80,0)" d="M7.2,0 H0.3 V10 M0.3,4.7 H6.4"/><path vector-effect="non-scaling-stroke" transform="translate(42.60,0)" d="M0.3,0 V10 H7.0"/><path vector-effect="non-scaling-stroke" transform="translate(51.20,0)" d="M10.75,2.51 A5.9,4.5 -25 0 1 0.05,7.49 A5.9,4.5 -25 0 1 10.75,2.51Z"/><path vector-effect="non-scaling-stroke" transform="translate(63.60,0)" d="M10.75,2.51 A5.9,4.5 -25 0 1 0.05,7.49 A5.9,4.5 -25 0 1 10.75,2.51Z"/><path vector-effect="non-scaling-stroke" transform="translate(76.00,0)" d="M0.3,10 V0 H6 Q9.8,0 9.8,2.5 Q9.8,5 6,5 H0.3 M3.2,5 L10.4,10"/><path vector-effect="non-scaling-stroke" transform="translate(94.20,0)" d="M0.3,6.0 H4.3"/><path vector-effect="non-scaling-stroke" transform="translate(106.60,0)" d="M6.5,0 H0.9 L0.5,4.3 Q1.7,3.9 3.5,3.9 Q6.8,3.9 6.8,7 Q6.8,10 3.5,10 Q1,10 0,8.6"/><path vector-effect="non-scaling-stroke" transform="translate(115.00,0)" d="M0.2,2.2 Q1,0 3.5,0 Q6.6,0 6.6,2.8 Q6.6,5.2 0.2,10 H6.8"/><path vector-effect="non-scaling-stroke" transform="translate(123.40,0)" d="M0,0.6 H6.8 M6.3,0 V10"/></g>
<rect x="89" y="1041.5" width="560" height="2.5" fill="#000" stroke="none"/>
</g>
<!-- /TEXT -->
</svg>
</body></html>
